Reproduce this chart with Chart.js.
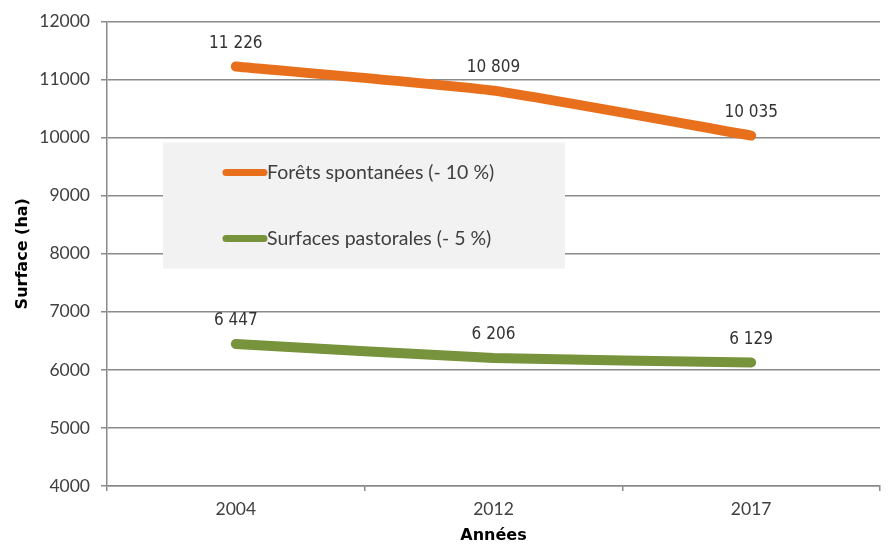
<!DOCTYPE html>
<html>
<head>
<meta charset="utf-8">
<script src="https://cdn.jsdelivr.net/npm/chart.js@4/dist/chart.umd.min.js"></script>
<style>
html,body{margin:0;padding:0;background:#fff;}
#wrap{width:888px;height:547px;position:relative;}
</style>
</head>
<body>
<div id="wrap"><canvas id="c" width="888" height="547"></canvas></div>
<script>
const categories = ['2004', '2012', '2017'];
const foretsValues = [11226, 10809, 10035];
const pastoralesValues = [6447, 6206, 6129];
const seriesLabels = ['Forêts spontanées (- 10 %)', 'Surfaces pastorales (- 5 %)'];
const yTicks = [4000, 5000, 6000, 7000, 8000, 9000, 10000, 11000, 12000];

const TXT = '#404040';
const GRID = '#8a8a8a';

function fmt(v){ return String(v).replace(/\B(?=(\d{3})+(?!\d))/g, ' '); }

const dataLabels = {
  id: 'dataLabels',
  afterDatasetsDraw(chart){
    const ctx = chart.ctx;
    ctx.save();
    ctx.font = '17px "DejaVu Sans Condensed", "DejaVu Sans"';
    ctx.fillStyle = '#333333';
    ctx.textAlign = 'center';
    ctx.textBaseline = 'middle';
    chart.data.datasets.forEach((ds, i) => {
      const meta = chart.getDatasetMeta(i);
      meta.data.forEach((pt, j) => {
        ctx.fillText(fmt(ds.data[j]), pt.x, pt.y - 23);
      });
    });
    ctx.restore();
  }
};

const boxLegend = {
  id: 'boxLegend',
  beforeDatasetsDraw(chart){
    const ctx = chart.ctx;
    const a = chart.chartArea;
    const bx = a.left + 56, by = a.top + 121, bw = 402, bh = 126;
    ctx.save();
    ctx.fillStyle = '#f2f2f2';
    ctx.fillRect(bx, by, bw, bh);
    ctx.font = '19.5px Lato, "Open Sans", sans-serif';
    ctx.textBaseline = 'middle';
    ctx.textAlign = 'left';
    chart.data.datasets.forEach((ds, i) => {
      const y = by + 30 + i * 66;
      ctx.strokeStyle = ds.borderColor;
      ctx.lineWidth = 7;
      ctx.lineCap = 'round';
      ctx.beginPath();
      ctx.moveTo(bx + 63, y);
      ctx.lineTo(bx + 101, y);
      ctx.stroke();
      ctx.fillStyle = TXT;
      ctx.fillText(ds.label, bx + 104, y);
    });
    ctx.restore();
  }
};

new Chart(document.getElementById('c'), {
  type: 'line',
  data: {
    labels: categories,
    datasets: [
      { label: seriesLabels[0], data: foretsValues, borderColor: '#e8701c', backgroundColor: '#e8701c',
        borderWidth: 10, pointRadius: 0, tension: 0.15, borderCapStyle: 'round', borderJoinStyle: 'round' },
      { label: seriesLabels[1], data: pastoralesValues, borderColor: '#77933c', backgroundColor: '#77933c',
        borderWidth: 10, pointRadius: 0, tension: 0.15, borderCapStyle: 'round', borderJoinStyle: 'round' }
    ]
  },
  options: {
    responsive: false,
    animation: false,
    layout: { padding: { left: 0, right: 8, top: 21, bottom: 0 } },
    plugins: { legend: { display: false }, tooltip: { enabled: false } },
    scales: {
      x: {
        type: 'category',
        offset: true,
        afterFit(s){ s.height = 61; },
        grid: { offset: true, drawOnChartArea: false, drawTicks: true, tickLength: 5, color: GRID, lineWidth: 1.5 },
        border: { display: true, color: GRID, width: 1.5 },
        ticks: { color: TXT, font: { family: 'Lato', size: 17.5 }, padding: 8 },
        title: { display: true, text: 'Années', color: '#000', font: { family: 'DejaVu Sans', weight: 'bold', size: 16 }, padding: { top: 0, bottom: 2 } }
      },
      y: {
        min: 4000, max: 12000,
        afterFit(s){ s.width = 107; },
        afterBuildTicks(s){ s.ticks = yTicks.map(v => ({ value: v })); },
        grid: { drawTicks: true, tickLength: 6, color: GRID, lineWidth: 1.5 },
        border: { display: true, color: GRID, width: 1.5 },
        ticks: { color: TXT, font: { family: 'Lato', size: 17.5 }, padding: 11, callback: v => String(v) },
        title: { display: true, text: 'Surface (ha)', color: '#000', font: { family: 'DejaVu Sans', weight: 'bold', size: 16 }, padding: { top: 13, bottom: 0 } }
      }
    }
  },
  plugins: [boxLegend, dataLabels]
});
</script>
</body>
</html>
